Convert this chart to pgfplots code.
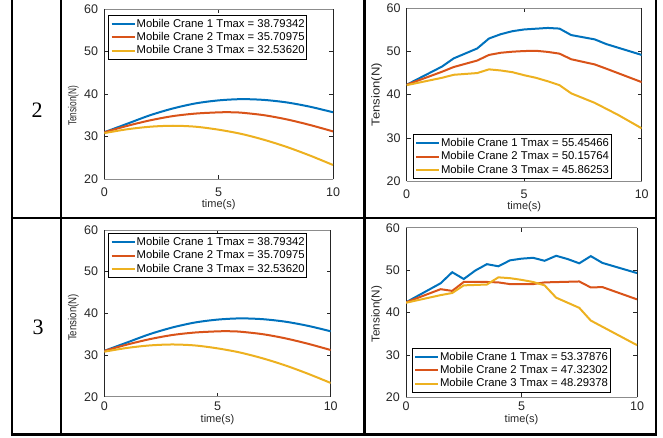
\documentclass[border=0pt]{standalone}
\usepackage{pgfplots}
\pgfplotsset{compat=1.18}
\usepackage{fontspec}
\setmainfont{Liberation Sans}
\newfontfamily\serifnum{Liberation Serif}
\definecolor{mblue}{RGB}{0,114,189}
\definecolor{morange}{RGB}{217,83,25}
\definecolor{myellow}{RGB}{237,177,32}
\pgfplotsset{
  mystyle/.style={
    scale only axis, anchor=south west,
    xmin=0, xmax=10, ymin=20, ymax=60,
    xtick={0,5,10}, ytick={20,30,...,60},
    minor tick num=0,
    tick align=inside, major tick length=4pt,
    tick style={black!85, line width=0.6pt},
    separate axis lines,
    every outer x axis line/.append style={black!45, line width=0.6pt},
    every outer y axis line/.append style={black!85, line width=0.6pt},
    ticklabel style={font=\fontsize{12.5}{14}\selectfont, text=black!85, inner sep=0pt},
    /pgf/number format/assume math mode=true,
    yticklabel style={xshift=-6pt},
    xlabel={time(s)},
    xlabel style={font=\fontsize{11}{13}\selectfont, text=black!85, at={(axis description cs:0.5,0)}, anchor=north, inner sep=0pt},
    ylabel style={font=\fontsize{11.5}{13}\selectfont, text=black!85, anchor=center, inner sep=0pt},
    every axis plot/.append style={line width=2pt},
    legend cell align=left,
    legend image code/.code={\draw[##1] (0pt,0pt) -- (23pt,0pt);},
    legend style={draw=black, line width=0.6pt, fill=white,
      inner xsep=2pt, inner ysep=3.5pt, row sep=2.8pt, column sep=1pt,
      font=\fontsize{11.3}{13}\selectfont,
      nodes={inner sep=0pt, text height=8.5pt, text depth=2pt}},
  }
}
\begin{document}
\begin{tikzpicture}[x=1pt,y=1pt]
\useasboundingbox (0,0) rectangle (663,437);
% table lines
\draw[line width=2.5pt] (12,437) -- (12,2.5);
\draw[line width=2.5pt] (61,437) -- (61,2.5);
\draw[line width=2.5pt] (364.5,437) -- (364.5,2.5);
\draw[line width=2.5pt] (656,437) -- (656,2.5);
\draw[line width=2.5pt] (10.75,219) -- (657.25,219);
\draw[line width=2.5pt] (10.75,2.5) -- (657.25,2.5);
\node[font=\serifnum\fontsize{22}{24}\selectfont] at (37,326.5) {2};
\node[font=\serifnum\fontsize{22}{24}\selectfont] at (38,110) {3};

% Top-left
\begin{axis}[mystyle, at={(104.3pt,258pt)}, width=228.7pt, height=170pt,
  xticklabel style={yshift=-8.7pt},
  xlabel style={yshift=-20pt},
  ylabel={\scalebox{0.72}[1]{Tension(N)}},
  ylabel style={at={(axis description cs:0,0.43)}, yshift=31pt},
  legend style={at={(0,1)}, anchor=north west, xshift=4pt, yshift=-6pt}]
\addplot[mblue, smooth] coordinates {(0,31.0)(1,33.0)(2,35.0)(3,36.6)(4,37.8)(5,38.5)(6,38.79)(7,38.6)(8,38.0)(9,37.0)(10,35.7)};
\addplot[morange, smooth] coordinates {(0,31.0)(1,32.5)(2,33.8)(3,34.8)(4,35.4)(5,35.68)(5.5,35.71)(6,35.6)(7,35.0)(8,34.0)(9,32.7)(10,31.2)};
\addplot[myellow, smooth] coordinates {(0,30.8)(1,31.7)(2,32.3)(3,32.53)(4,32.3)(5,31.6)(6,30.6)(7,29.2)(8,27.5)(9,25.5)(10,23.3)};
\legend{Mobile Crane 1 Tmax = 38.79342, Mobile Crane 2 Tmax = 35.70975, Mobile Crane 3 Tmax = 32.53620}
\end{axis}

% Top-right
\begin{axis}[mystyle, at={(406.7pt,256pt)}, width=235pt, height=172.7pt,
  xticklabel style={yshift=-8.7pt},
  xlabel style={yshift=-20.5pt},
  ylabel={\scalebox{1.14}[1]{Tension(N)}},
  ylabel style={at={(axis description cs:0,0.5)}, yshift=30pt},
  legend style={at={(0,0)}, anchor=south west, xshift=6pt, yshift=2pt}]
\addplot[mblue] coordinates {(0,42.3)(1.5,46.5)(2,48.4)(3,50.7)(3.5,53.0)(4,54.0)(4.5,54.7)(5,55.1)(6,55.45)(6.5,55.3)(7,53.8)(8,52.8)(8.5,51.7)(10,49.2)};
\addplot[morange] coordinates {(0,42.3)(1.5,45.3)(2,46.4)(3,47.9)(3.5,49.2)(4,49.7)(4.5,49.95)(5,50.1)(5.5,50.16)(6,49.9)(6.5,49.5)(7,48.2)(8,47.0)(8.5,46.0)(10,42.9)};
\addplot[myellow] coordinates {(0,42.2)(1.5,43.9)(2,44.6)(3,45.0)(3.5,45.86)(4,45.6)(4.5,45.2)(5,44.5)(5.5,43.9)(6,43.1)(6.5,42.2)(7,40.3)(8,38.1)(9,35.3)(10,32.2)};
\legend{Mobile Crane 1 Tmax = 55.45466, Mobile Crane 2 Tmax = 50.15764, Mobile Crane 3 Tmax = 45.86253}
\end{axis}

% Bottom-left
\begin{axis}[mystyle, at={(104.3pt,40.3pt)}, width=226.4pt, height=166.7pt,
  xticklabel style={yshift=-5pt},
  xlabel style={yshift=-17.6pt},
  ylabel={\scalebox{0.84}[1]{Tension(N)}},
  ylabel style={at={(axis description cs:0,0.475)}, yshift=31pt},
  legend style={at={(0,1)}, anchor=north west, xshift=4pt, yshift=-3.3pt}]
\addplot[mblue, smooth] coordinates {(0,31.0)(1,33.0)(2,35.0)(3,36.6)(4,37.8)(5,38.5)(6,38.79)(7,38.6)(8,38.0)(9,37.0)(10,35.7)};
\addplot[morange, smooth] coordinates {(0,31.0)(1,32.5)(2,33.8)(3,34.8)(4,35.4)(5,35.68)(5.5,35.71)(6,35.6)(7,35.0)(8,34.0)(9,32.7)(10,31.2)};
\addplot[myellow, smooth] coordinates {(0,30.8)(1,31.7)(2,32.3)(3,32.53)(4,32.3)(5,31.6)(6,30.6)(7,29.2)(8,27.5)(9,25.5)(10,23.3)};
\legend{Mobile Crane 1 Tmax = 38.79342, Mobile Crane 2 Tmax = 35.70975, Mobile Crane 3 Tmax = 32.53620}
\end{axis}

% Bottom-right
\begin{axis}[mystyle, at={(406pt,39.7pt)}, width=231pt, height=169.6pt,
  xticklabel style={yshift=-4.7pt},
  xlabel style={yshift=-17pt},
  ylabel={\scalebox{1.02}[1]{Tension(N)}},
  ylabel style={at={(axis description cs:0,0.49)}, yshift=29.3pt},
  legend style={at={(0,0)}, anchor=south west, xshift=5.7pt, yshift=4.6pt}]
\addplot[mblue] coordinates {(0,42.4)(1.5,46.9)(2,49.5)(2.5,47.9)(3,49.9)(3.5,51.4)(4,50.9)(4.5,52.3)(5,52.7)(5.5,52.9)(6,52.2)(6.5,53.38)(7,52.6)(7.5,51.6)(8,53.3)(8.5,51.7)(10,49.3)};
\addplot[morange] coordinates {(0,42.4)(1.5,45.5)(2,45.1)(2.5,47.2)(3.5,47.2)(4,47.1)(4.5,46.7)(5.5,46.7)(6,47.1)(7.5,47.32)(8,45.9)(8.5,46.0)(10,43.1)};
\addplot[myellow] coordinates {(0,42.3)(1.5,44.1)(2,44.6)(2.5,46.4)(3.5,46.6)(4,48.29)(4.5,48.1)(5,47.7)(5.5,47.2)(6,46.4)(6.5,43.5)(7.5,41.1)(8,38.1)(10,32.3)};
\legend{Mobile Crane 1 Tmax = 53.37876, Mobile Crane 2 Tmax = 47.32302, Mobile Crane 3 Tmax = 48.29378}
\end{axis}
\end{tikzpicture}
\end{document}
